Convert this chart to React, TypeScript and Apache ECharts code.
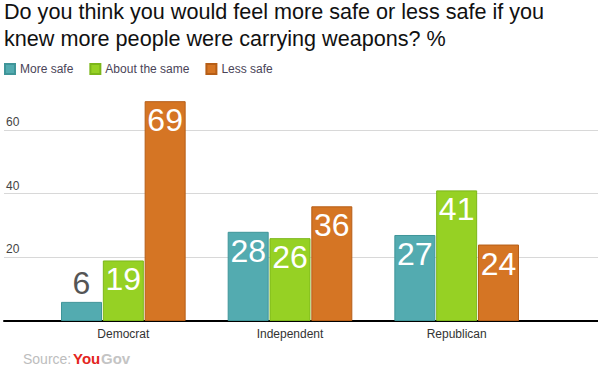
import React, { useEffect, useRef } from "react";
import * as echarts from "echarts";

const categories = ["Democrat", "Independent", "Republican"];
const seriesNames = ["More safe", "About the same", "Less safe"];
const moreSafe = [6, 28, 27];
const aboutSame = [19, 26, 41];
const lessSafe = [69, 36, 24];
const yTicks = [0, 20, 40, 60];

const colors = ["#53abb0", "#96d124", "#d57524"];
const borders = ["#3f9599", "#7cb61a", "#b65e17"];

export default function App() {
  const ref = useRef<HTMLDivElement>(null);
  useEffect(() => {
    document.body.style.margin = "0";
    const chart = echarts.init(ref.current!, null, { renderer: "svg" });
    const font = "'Liberation Sans', Arial, sans-serif";
    const values = [moreSafe, aboutSame, lessSafe];
    const series = seriesNames.map((name, i) => ({
      name,
      type: "bar",
      xAxisIndex: 1,
      yAxisIndex: 1,
      barWidth: 41,
      barGap: "2%",
      itemStyle: { color: colors[i], borderColor: borders[i], borderWidth: 1 },
      data: values[i].map((v) => ({
        value: v,
        label:
          v < 10
            ? { position: "top", color: "#555555", distance: 3 }
            : { position: "insideTop", color: "#ffffff", distance: 3 },
      })),
      label: {
        show: true,
        fontFamily: font,
        fontSize: 32,
      },
    }));
    chart.setOption({
      animation: false,
      textStyle: { fontFamily: font },
      title: {
        text: "Do you think you would feel more safe or less safe if you\nknew more people were carrying weapons? %",
        left: 4,
        top: -2,
        padding: 0,
        textStyle: { fontFamily: font, fontSize: 21.6, fontWeight: "normal", color: "#111111", lineHeight: 27 },
      },
      legend: {
        left: 4,
        top: 63,
        padding: 0,
        itemWidth: 10,
        itemHeight: 10,
        itemGap: 16,
        icon: "rect",
        textStyle: { fontFamily: font, fontSize: 12, color: "#4a4458" },
        data: seriesNames,
      },
      grid: [
        { left: 4, right: 0, top: 98, bottom: 55 },
        { left: 40, right: 58, top: 98, bottom: 55 },
      ],
      xAxis: [
        {
          gridIndex: 0,
          type: "value",
          min: 0,
          max: 1,
          axisLine: { show: true, onZero: false, lineStyle: { color: "#000000", width: 2 } },
          axisTick: { show: false },
          axisLabel: { show: false },
          splitLine: { show: false },
        },
        {
          gridIndex: 1,
          type: "category",
          data: categories,
          axisLine: { show: false },
          axisTick: { show: false },
          axisLabel: { fontFamily: font, fontSize: 12, color: "#333333", margin: 7 },
        },
      ],
      yAxis: [
        {
          gridIndex: 0,
          type: "value",
          min: 0,
          max: 70,
          interval: 20,
          axisLine: { show: false },
          axisTick: { show: false },
          axisLabel: {
            inside: true,
            margin: 2,
            verticalAlign: "bottom",
            padding: [0, 0, 2, 0],
            fontFamily: font,
            fontSize: 12,
            color: "#444444",
            showMaxLabel: false,
            showMinLabel: false,
            formatter: (v: number) => (yTicks.includes(v) ? String(v) : ""),
          },
          splitLine: { show: true, showMaxLine: false, showMinLine: false, lineStyle: { color: "#d8d8d8", width: 1 } },
        },
        {
          gridIndex: 1,
          type: "value",
          min: 0,
          max: 70,
          interval: 20,
          show: false,
          splitLine: { show: false },
        },
      ],
      series,
      graphic: [
        {
          type: "text",
          left: 23,
          top: 352,
          style: { text: "Source:", fontFamily: font, fontSize: 14, fill: "#bdbdbd" },
        },
        {
          type: "text",
          left: 73,
          top: 351,
          style: { text: "You", fontFamily: font, fontSize: 15, fontWeight: "bold", fill: "#e3251d" },
        },
        {
          type: "text",
          left: 101,
          top: 351,
          style: { text: "Gov", fontFamily: font, fontSize: 15, fontWeight: "bold", fill: "#c4c4c4" },
        },
      ],
    });
    return () => chart.dispose();
  }, []);
  return <div ref={ref} style={{ width: 598, height: 376 }} />;
}
